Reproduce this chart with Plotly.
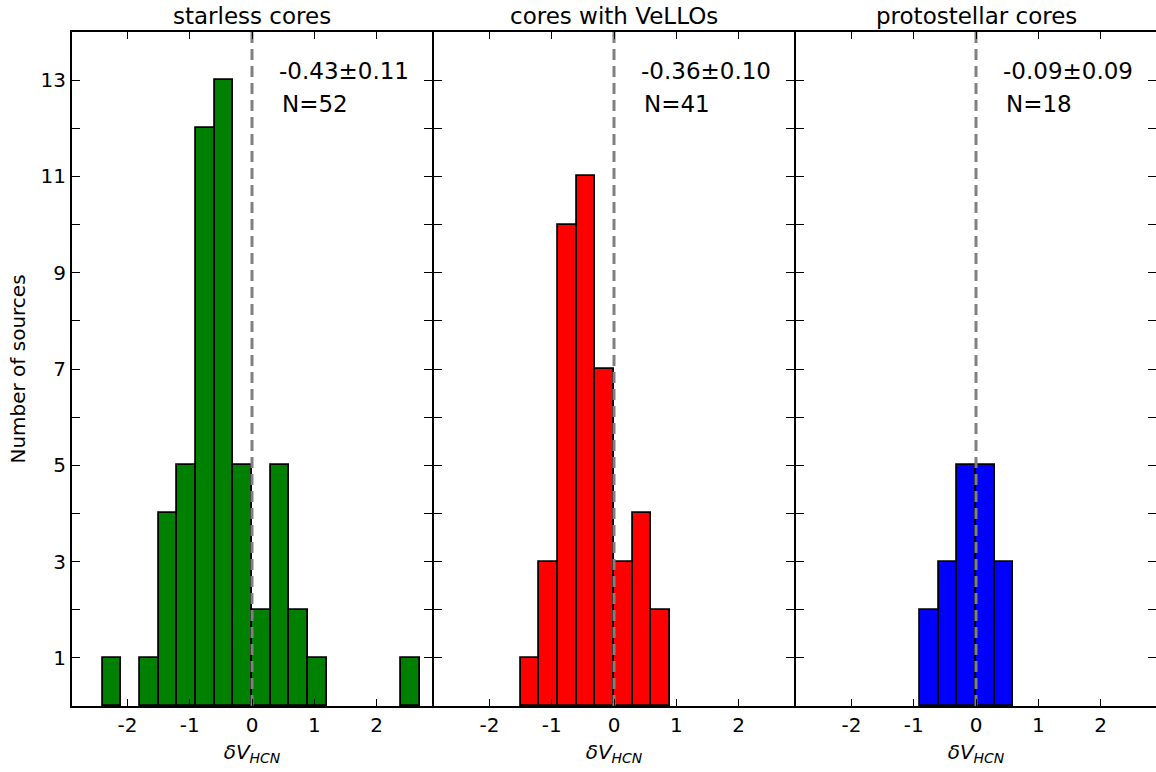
import plotly.graph_objects as go

# ---- data ----
bin_width = 0.3
starless_left = [-2.4, -1.8, -1.5, -1.2, -0.9, -0.6, -0.3, 0.0, 0.3, 0.6, 0.9, 2.4]
starless_counts = [1, 1, 4, 5, 12, 13, 5, 2, 5, 2, 1, 1]
vello_left = [-1.5, -1.2, -0.9, -0.6, -0.3, 0.0, 0.3, 0.6]
vello_counts = [1, 3, 10, 11, 7, 3, 4, 2]
proto_left = [-0.9, -0.6, -0.3, 0.0, 0.3]
proto_counts = [2, 3, 5, 5, 3]

titles = ["starless cores", "cores with VeLLOs", "protostellar cores"]
stats = ["-0.43±0.11", "-0.36±0.10", "-0.09±0.09"]
ns = ["N=52", "N=41", "N=18"]
colors = ["green", "red", "blue"]
x_ticks = [-2, -1, 0, 1, 2]
x_ticklabels = ["-2", "-1", "0", "1", "2"]
y_major = [1, 3, 5, 7, 9, 11, 13]
y_minor = [2, 4, 6, 8, 10, 12]

panels = [(starless_left, starless_counts), (vello_left, vello_counts), (proto_left, proto_counts)]

# figure slightly wider than the window so the outer right spine falls just off-canvas
W, H = 1160, 772
LW = 2
pw = 360.0
ml, mt, mb = 72, 32, 66
plot_w = 3 * pw + 2 * LW
mr = W - ml - plot_w

fig = go.Figure()
font = "DejaVu Sans"

for i, (lefts, counts) in enumerate(panels):
    xa = "x" if i == 0 else f"x{i+1}"
    ya = "y" if i == 0 else f"y{i+1}"
    fig.add_trace(go.Bar(
        x=[l + bin_width / 2 for l in lefts], y=counts, width=bin_width,
        marker=dict(color=colors[i], line=dict(color="black", width=1.8)),
        xaxis=xa, yaxis=ya, showlegend=False, hoverinfo="skip"))
    fig.add_trace(go.Scatter(
        x=[0, 0], y=[0, 14], mode="lines",
        line=dict(color="gray", width=3, dash="11px,6px"),
        xaxis=xa, yaxis=ya, showlegend=False, hoverinfo="skip"))

    p0 = i * (pw + LW)
    d0 = p0 / plot_w
    d1 = (p0 + pw) / plot_w
    xkey = "xaxis" if i == 0 else f"xaxis{i+1}"
    ykey = "yaxis" if i == 0 else f"yaxis{i+1}"
    fig.layout[xkey] = dict(
        domain=[d0, d1], range=[-2.89, 2.89], anchor=ya, automargin=False,
        tickvals=x_ticks, ticktext=x_ticklabels,
        ticks="inside", ticklen=7, tickwidth=1.3, tickcolor="black",
        showline=True, linecolor="black", linewidth=LW, mirror="ticks",
        showgrid=False, zeroline=False,
        tickfont=dict(family=font, size=20, color="black"),
        title=dict(text="<i>δV</i><sub><i>HCN</i></sub>",
                   font=dict(family=font, size=20, color="black"), standoff=9))
    fig.layout[ykey] = dict(
        domain=[0, 1], range=[0, 14], anchor=xa, automargin=False,
        tickvals=y_major, ticks="inside", ticklen=8, tickwidth=1.3, tickcolor="black",
        minor=dict(tickvals=y_minor, ticks="inside", ticklen=8, tickwidth=1.3, tickcolor="black"),
        showline=True, linecolor="black", linewidth=LW, mirror="ticks",
        showgrid=False, zeroline=False,
        showticklabels=(i == 0),
        tickfont=dict(family=font, size=20, color="black"))
    if i == 0:
        fig.layout[ykey].title = dict(text="Number of sources",
                                      font=dict(family=font, size=20, color="black"),
                                      standoff=10)

    fig.add_annotation(x=(d0 + d1) / 2, y=1, xref="paper", yref="paper",
                       text=titles[i], showarrow=False, xanchor="center",
                       yanchor="bottom", yshift=1,
                       font=dict(family=font, size=23, color="black"))
    fig.add_annotation(x=0.4, y=13.2, xref=xa, yref=ya, text=stats[i], showarrow=False,
                       xanchor="left", yanchor="middle",
                       font=dict(family=font, size=23, color="black"))
    fig.add_annotation(x=0.45, y=12.5, xref=xa, yref=ya, text=ns[i], showarrow=False,
                       xanchor="left", yanchor="middle",
                       font=dict(family=font, size=23, color="black"))

fig.update_layout(width=W, height=H, autosize=False,
                  margin=dict(l=ml, r=mr, t=mt, b=mb, pad=0, autoexpand=False),
                  plot_bgcolor="white", paper_bgcolor="white", bargap=0)
fig.write_html(
    "out.html",
    config={"responsive": False, "displayModeBar": False},
    post_script=("document.documentElement.style.overflow='hidden';"
                 "document.body.style.overflow='hidden';"
                 "document.body.style.margin='0';"),
)
